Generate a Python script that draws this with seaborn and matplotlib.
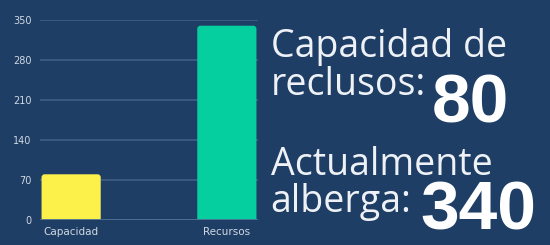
import matplotlib
matplotlib.use("Agg")
import matplotlib.pyplot as plt
from matplotlib.patches import FancyBboxPatch
import seaborn as sns
import pandas as pd

categorias = ["Capacidad", "Recursos"]
valores = [80, 340]
colores = ["#fcf04a", "#05cf9f"]
yticks = [0, 70, 140, 210, 280, 350]

bg = "#1f3e65"
grid_c = "#3d5d85"

sns.set_theme(style="dark")
plt.rcParams["font.family"] = ["DejaVu Sans"]

df = pd.DataFrame({"categoria": categorias, "valor": valores})

fig = plt.figure(figsize=(5.5, 2.45), dpi=100, facecolor=bg)
ax = fig.add_axes([40 / 550, 25 / 245, 218 / 550, 200 / 245])
ax.set_facecolor(bg)

sns.barplot(data=df, x="categoria", y="valor", hue="categoria",
            palette=colores, width=0.38, saturation=1, legend=False,
            linewidth=0, ax=ax, zorder=3)

ax.set_xlim(-0.2, 1.2)
ax.set_ylim(0, 350)

# rounded top corners: swap each bar for a rounded box that starts below 0
for p in list(ax.patches):
    x, w, h = p.get_x(), p.get_width(), p.get_height()
    rb = FancyBboxPatch((x, -20), w, h + 20,
                        boxstyle="round,pad=0,rounding_size=0.02",
                        mutation_aspect=270, facecolor=p.get_facecolor(),
                        linewidth=0, zorder=3)
    p.set_visible(False)
    ax.add_patch(rb)

ax.set_yticks(yticks)
ax.grid(axis="y", color=grid_c, linewidth=1.3, zorder=0)
ax.grid(axis="x", visible=False)
for s in ax.spines.values():
    s.set_visible(False)
ax.axhline(0, color="#4d6d93", linewidth=1.3, zorder=4)
ax.tick_params(axis="y", colors="#cfd8e3", labelsize=7, length=0, pad=6)
ax.tick_params(axis="x", colors="#cfd8e3", labelsize=7.5, length=0, pad=5)
ax.set_xlabel("")
ax.set_ylabel("")

txt = "#eef2f6"
light = dict(color=txt, fontsize=27, fontweight="normal", family="Open Sans", va="baseline")
big = dict(color="white", fontsize=50, fontweight="bold", family="Liberation Sans", va="baseline")

fig.text(0.492, 0.767, "Capacidad de", **light)
fig.text(0.492, 0.612, "reclusos:", **light)
fig.text(0.785, 0.50, "80", **big)
fig.text(0.765, 0.062, "340", **big)
fig.text(0.492, 0.286, "Actualmente", **light)
fig.text(0.492, 0.135, "alberga:", **light)

fig.savefig("out.png", dpi=100, facecolor=bg)
